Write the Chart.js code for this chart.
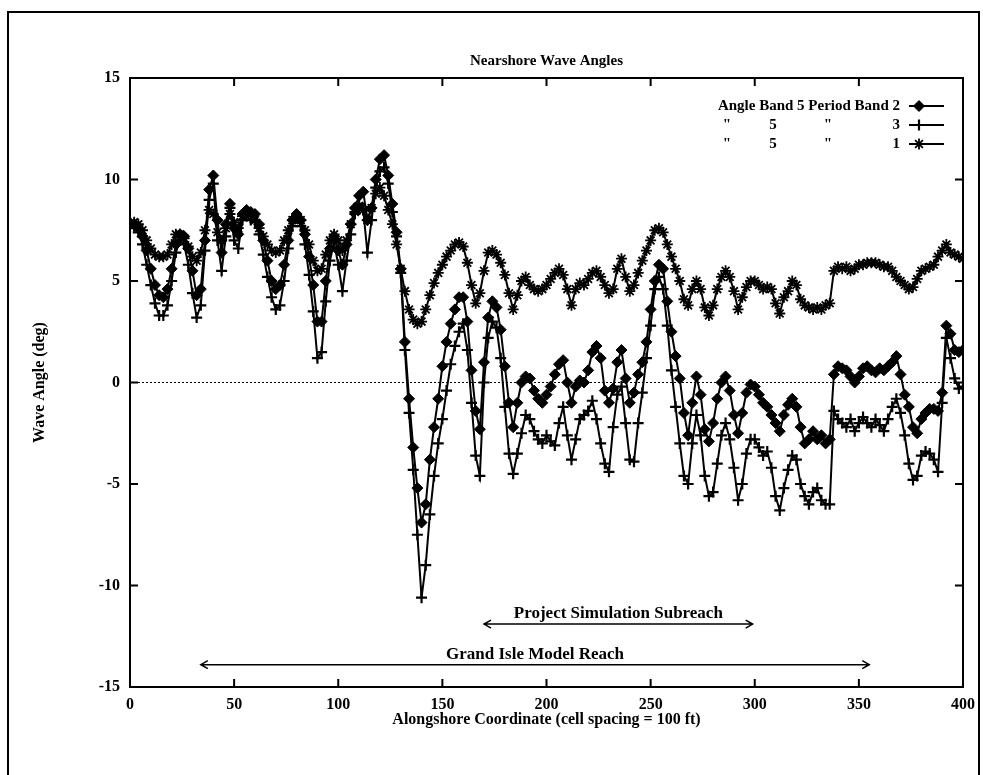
<!DOCTYPE html>
<html>
<head>
<meta charset="utf-8">
<script src="https://cdn.jsdelivr.net/npm/chart.js@4.4.0/dist/chart.umd.min.js"></script>
<style>
	html, body { margin: 0; padding: 0; background: #fff; }
</style>
</head>
<body>
<canvas id="grafikgelombang" width="983" height="775"></canvas>
<script>
var judul = 'Nearshore Wave Angles';
var judulx = 'Alongshore Coordinate (cell spacing = 100 ft)';
var juduly = 'Wave Angle (deg)';
var tickx = [0, 50, 100, 150, 200, 250, 300, 350, 400];
var ticky = [-15, -10, -5, 0, 5, 10, 15];

// alongshore cell number
var sel = [
	0,2,4,6,8,10,12,14,16,18, 20,22,24,26,28,30,32,34,36,38,
	40,42,44,46,48,50,52,54,56,58, 60,62,64,66,68,70,72,74,76,78,
	80,82,84,86,88,90,92,94,96,98, 100,102,104,106,108,110,112,114,116,118,
	120,122,124,126,128,130,132,134,136,138, 140,142,144,146,148,150,152,154,156,158,
	160,162,164,166,168,170,172,174,176,178, 180,182,184,186,188,190,192,194,196,198,
	200,202,204,206,208,210,212,214,216,218, 220,222,224,226,228,230,232,234,236,238,
	240,242,244,246,248,250,252,254,256,258, 260,262,264,266,268,270,272,274,276,278,
	280,282,284,286,288,290,292,294,296,298, 300,302,304,306,308,310,312,314,316,318,
	320,322,324,326,328,330,332,334,336,338, 340,342,344,346,348,350,352,354,356,358,
	360,362,364,366,368,370,372,374,376,378, 380,382,384,386,388,390,392,394,396,398,
	400
];

// Angle band 5, period band 2 (diamond)
var periode2 = [
	7.8,7.8,7.6,7.2,6.5,5.6,4.8,4.3,4.2,4.6, 5.6,6.8,7.3,7.2,6.6,5.5,4.3,4.6,7.0,9.5,
	10.2,8.0,6.4,7.8,8.8,7.6,7.3,8.3,8.5,8.4, 8.3,7.8,7.0,6.0,5.0,4.6,4.8,5.8,7.0,8.0,
	8.3,8.0,7.3,6.2,4.8,3.0,3.0,5.0,6.6,7.2, 6.5,5.8,6.8,7.8,8.6,9.2,9.4,8.0,8.6,10.0,
	11.0,11.2,10.2,8.8,7.4,5.6,2.0,-0.8,-3.2,-5.2, -6.9,-6.0,-3.8,-2.2,-0.8,0.8,2.0,2.9,3.6,4.2,
	4.2,3.0,0.6,-1.4,-2.3,1.0,3.2,4.0,3.7,2.6, 0.8,-1.0,-2.2,-1.0,0.0,0.3,0.2,-0.4,-0.8,-1.0,
	-0.6,-0.2,0.4,0.9,1.1,0.0,-1.0,-0.2,0.1,0.0, 0.6,1.5,1.8,1.2,-0.4,-1.0,-0.3,1.0,1.6,0.2,
	-1.0,-0.5,0.4,1.0,2.0,3.6,5.0,5.8,5.6,4.0, 2.5,1.3,0.2,-1.5,-2.6,-1.0,0.3,-0.6,-2.3,-2.9,
	-2.0,-0.8,0.0,0.3,-0.4,-1.6,-2.5,-1.5,-0.5,-0.1, -0.2,-0.6,-1.0,-1.2,-1.6,-2.0,-2.4,-1.6,-1.1,-0.8,
	-1.2,-2.2,-3.0,-2.8,-2.4,-2.8,-2.6,-3.0,-2.8,0.4, 0.8,0.7,0.6,0.3,0.0,0.3,0.7,0.8,0.6,0.5,
	0.7,0.6,0.8,1.0,1.3,0.4,-0.6,-1.2,-2.2,-2.5, -1.8,-1.5,-1.3,-1.3,-1.4,-0.5,2.8,2.4,1.6,1.5,
	1.6
];

// Angle band 5, period band 3 (plus)
var periode3 = [
	7.6,7.7,7.4,6.8,5.8,4.8,3.9,3.3,3.3,3.8, 5.0,6.4,7.0,6.8,5.8,4.4,3.2,3.8,6.5,9.0,
	9.8,7.0,5.5,7.2,8.6,7.0,6.6,8.0,8.2,8.0, 7.9,7.3,6.3,5.2,4.2,3.6,3.8,5.0,6.6,7.7,
	8.1,7.7,6.8,5.3,3.5,1.2,1.5,4.0,6.0,6.9, 5.8,4.5,6.0,7.3,8.3,8.8,8.5,6.4,8.0,9.6,
	10.4,10.6,9.8,8.4,7.2,5.4,1.6,-1.5,-4.3,-7.5, -10.6,-9.0,-6.5,-4.6,-3.0,-1.8,-0.4,0.9,1.8,2.5,
	2.9,1.6,-1.0,-3.6,-4.6,0.0,2.2,3.0,2.7,1.2, -1.2,-3.5,-4.5,-3.5,-2.5,-1.6,-1.8,-2.4,-2.8,-3.0,
	-2.6,-2.9,-3.1,-2.0,-1.2,-2.6,-3.8,-2.8,-1.8,-1.6, -1.4,-0.9,-1.8,-3.0,-4.0,-4.4,-2.2,-0.6,-0.2,-2.0,
	-3.8,-3.9,-2.0,-0.5,1.2,2.8,4.6,5.2,4.6,2.8, 0.6,-1.2,-3.0,-4.6,-5.0,-3.0,-1.6,-2.6,-4.6,-5.6,
	-5.4,-4.0,-2.6,-2.0,-2.8,-4.2,-5.8,-5.0,-3.5,-2.8, -2.8,-3.2,-3.6,-3.4,-4.2,-5.6,-6.3,-5.2,-4.3,-3.6,
	-3.8,-5.0,-5.6,-6.0,-5.4,-5.2,-5.8,-6.0,-6.0,-1.4, -1.8,-2.0,-2.2,-1.8,-2.4,-2.0,-1.7,-2.0,-2.2,-1.8,
	-2.1,-2.4,-1.8,-1.2,-0.8,-1.5,-2.6,-4.0,-4.8,-4.6, -3.6,-3.4,-3.5,-3.8,-4.4,-1.0,2.2,1.2,0.2,-0.3,
	-0.2
];

// Angle band 5, period band 1 (star)
var periode1 = [
	7.8,7.9,7.8,7.5,7.0,6.6,6.3,6.2,6.2,6.3, 6.8,7.3,7.3,7.1,6.7,6.2,6.0,6.4,7.5,8.5,
	8.3,7.4,7.0,7.6,8.3,7.9,7.6,8.2,8.4,8.3, 8.0,7.6,7.2,6.8,6.5,6.4,6.5,7.0,7.5,8.0,
	8.2,8.0,7.5,6.8,6.0,5.5,5.6,6.3,7.0,7.3, 7.0,6.5,7.0,7.8,8.4,8.7,8.5,8.0,8.6,9.3,
	9.6,9.2,8.5,7.8,6.8,5.6,4.5,3.6,3.1,2.9, 3.0,3.6,4.3,4.9,5.4,5.8,6.2,6.5,6.8,6.9,
	6.7,5.9,4.8,3.9,4.4,5.5,6.4,6.5,6.3,5.9, 5.3,4.4,3.6,4.3,5.0,5.2,4.8,4.6,4.5,4.6,
	4.8,5.1,5.4,5.6,5.3,4.6,3.8,4.6,4.9,4.8, 5.1,5.4,5.5,5.2,4.8,4.4,4.6,5.6,6.1,5.2,
	4.5,4.8,5.4,6.0,6.5,7.0,7.5,7.6,7.4,6.8, 6.2,5.6,5.0,4.1,3.8,4.6,5.0,4.6,3.7,3.3,
	3.8,4.6,5.2,5.5,5.2,4.5,3.6,4.2,4.7,5.0, 5.0,4.8,4.6,4.7,4.6,3.9,3.4,4.2,4.5,5.0,
	4.8,4.1,3.8,3.7,3.6,3.7,3.6,3.8,3.9,5.5, 5.7,5.6,5.7,5.5,5.6,5.8,5.8,5.9,5.9,5.9,
	5.8,5.7,5.7,5.5,5.2,5.0,4.8,4.6,4.7,5.1, 5.5,5.6,5.7,5.8,6.2,6.5,6.8,6.4,6.3,6.2,
	6.1
];

var label_legend = ['Angle Band 5 Period Band 2', '"   5   "   3', '"   5   "   1'];
var label_reach = ['Project Simulation Subreach', 'Grand Isle Model Reach'];
var reach_awal = [170, 34];
var reach_akhir = [299, 355];
var reach_y = [-11.9, -13.9];

var huruf = '"Liberation Serif", "DejaVu Serif", serif';

function titik(nilai){
	var hasil = [];
	for (var i = 0; i < sel.length; i++){
		hasil.push({x: sel[i], y: nilai[i]});
	}
	return hasil;
}

function gambar_tanda(ctx, gaya, x, y, r){
	ctx.beginPath();
	if (gaya == 'rectRot'){
		ctx.moveTo(x, y - r); ctx.lineTo(x + r, y); ctx.lineTo(x, y + r); ctx.lineTo(x - r, y);
		ctx.closePath();
		ctx.fill();
	} else {
		ctx.moveTo(x - r, y); ctx.lineTo(x + r, y);
		ctx.moveTo(x, y - r); ctx.lineTo(x, y + r);
		if (gaya == 'star'){
			var d = r * 0.707;
			ctx.moveTo(x - d, y - d); ctx.lineTo(x + d, y + d);
			ctx.moveTo(x - d, y + d); ctx.lineTo(x + d, y - d);
		}
	}
	ctx.stroke();
}

var hiasan = {
	id: 'hiasan',
	beforeDatasetsDraw: function(chart){
		var ctx = chart.ctx, a = chart.chartArea;
		var y0 = chart.scales.y.getPixelForValue(0);
		ctx.save();
		ctx.strokeStyle = '#000';
		ctx.lineWidth = 1;
		ctx.setLineDash([2, 2]);
		ctx.beginPath();
		ctx.moveTo(a.left, y0); ctx.lineTo(a.right, y0);
		ctx.stroke();
		ctx.restore();
	},
	afterDraw: function(chart){
		var ctx = chart.ctx, a = chart.chartArea;
		var sx = chart.scales.x, sy = chart.scales.y;
		ctx.save();
		ctx.strokeStyle = '#000';
		ctx.fillStyle = '#000';

		// page frame
		ctx.lineWidth = 2;
		ctx.beginPath();
		ctx.moveTo(8, 775); ctx.lineTo(8, 12); ctx.lineTo(979, 12); ctx.lineTo(979, 775);
		ctx.stroke();

		// title, centred over the plot box
		ctx.font = 'bold 15px ' + huruf;
		ctx.textAlign = 'center';
		ctx.textBaseline = 'middle';
		ctx.fillText(judul, (a.left + a.right) / 2, 61);

		// plot box and inward ticks
		ctx.strokeRect(a.left, a.top, a.right - a.left, a.bottom - a.top);
		ctx.beginPath();
		tickx.forEach(function(v){
			var px = sx.getPixelForValue(v);
			ctx.moveTo(px, a.bottom); ctx.lineTo(px, a.bottom - 8);
			ctx.moveTo(px, a.top); ctx.lineTo(px, a.top + 8);
		});
		ticky.forEach(function(v){
			var py = sy.getPixelForValue(v);
			ctx.moveTo(a.left, py); ctx.lineTo(a.left + 8, py);
			ctx.moveTo(a.right, py); ctx.lineTo(a.right - 8, py);
		});
		ctx.stroke();

		// legend
		ctx.font = 'bold 15px ' + huruf;
		var baris = [106, 125, 144];
		var kolom = [727, 773, 828];
		chart.data.datasets.forEach(function(ds, i){
			var y = baris[i];
			var teks = ds.label.split(/\s+/);
			ctx.textAlign = 'right';
			if (i == 0){
				ctx.fillText(ds.label, 900, y);
			} else {
				ctx.fillText(teks[3], 900, y);
				ctx.textAlign = 'center';
				for (var k = 0; k < 3; k++){ ctx.fillText(teks[k], kolom[k], y); }
			}
			ctx.lineWidth = 2;
			ctx.beginPath();
			ctx.moveTo(909, y); ctx.lineTo(944, y);
			ctx.stroke();
			ctx.lineWidth = ds.pointBorderWidth;
			gambar_tanda(ctx, ds.pointStyle, 919, y, ds.pointRadius);
		});

		// reach arrows
		ctx.lineWidth = 1.5;
		ctx.textAlign = 'center';
		ctx.textBaseline = 'bottom';
		ctx.font = 'bold 17px ' + huruf;
		for (var j = 0; j < label_reach.length; j++){
			var x1 = sx.getPixelForValue(reach_awal[j]);
			var x2 = sx.getPixelForValue(reach_akhir[j]);
			var yy = sy.getPixelForValue(reach_y[j]);
			ctx.beginPath();
			ctx.moveTo(x1, yy); ctx.lineTo(x2, yy);
			ctx.moveTo(x1 + 7, yy - 4); ctx.lineTo(x1, yy); ctx.lineTo(x1 + 7, yy + 4);
			ctx.moveTo(x2 - 7, yy - 4); ctx.lineTo(x2, yy); ctx.lineTo(x2 - 7, yy + 4);
			ctx.stroke();
			ctx.fillText(label_reach[j], (x1 + x2) / 2, yy - 2);
		}
		ctx.restore();
	}
};

function tampilkan_grafik(){
	var ctx = document.getElementById('grafikgelombang');
	var fonku = {family: huruf, size: 16, weight: 'bold'};
	var datagrafik = {
		datasets: [
			{
				label: label_legend[0],
				data: titik(periode2),
				showLine: true,
				borderColor: '#000',
				backgroundColor: '#000',
				borderWidth: 2,
				pointStyle: 'rectRot',
				pointRadius: 5.5,
				pointBorderWidth: 1
			},
			{
				label: label_legend[1],
				data: titik(periode3),
				showLine: true,
				borderColor: '#000',
				backgroundColor: '#000',
				borderWidth: 2,
				pointStyle: 'cross',
				pointRadius: 5.5,
				pointBorderWidth: 2.2
			},
			{
				label: label_legend[2],
				data: titik(periode1),
				showLine: true,
				borderColor: '#000',
				backgroundColor: '#000',
				borderWidth: 2,
				pointStyle: 'star',
				pointRadius: 5.5,
				pointBorderWidth: 1.8
			}
		]
	};
	var grafikku = new Chart(ctx, {
		type: 'scatter',
		data: datagrafik,
		options: {
			responsive: false,
			animation: false,
			devicePixelRatio: 1,
			layout: {padding: {left: 30, right: 20, top: 78, bottom: 38}},
			plugins: {
				legend: {display: false},
				tooltip: {enabled: false},
				title: {display: false}
			},
			scales: {
				x: {
					type: 'linear',
					min: 0,
					max: 400,
					afterBuildTicks: function(s){ s.ticks = tickx.map(function(v){ return {value: v}; }); },
					ticks: {color: '#000', font: fonku, padding: 8, maxRotation: 0, autoSkip: false},
					grid: {display: false, drawTicks: false},
					border: {display: false},
					title: {display: true, text: judulx, color: '#000', font: fonku, padding: {top: 0, bottom: 8}},
					afterFit: function(s){ s.height = 50; }
				},
				y: {
					type: 'linear',
					min: -15,
					max: 15,
					afterBuildTicks: function(s){ s.ticks = ticky.map(function(v){ return {value: v}; }); },
					ticks: {color: '#000', font: fonku, padding: 10, autoSkip: false},
					grid: {display: false, drawTicks: false},
					border: {display: false},
					title: {display: true, text: juduly, color: '#000', font: fonku, padding: {top: 0, bottom: 0}},
					afterFit: function(s){ s.width = 100; }
				}
			}
		},
		plugins: [hiasan]
	});
	return grafikku;
}
tampilkan_grafik();
</script>
</body>
</html>
